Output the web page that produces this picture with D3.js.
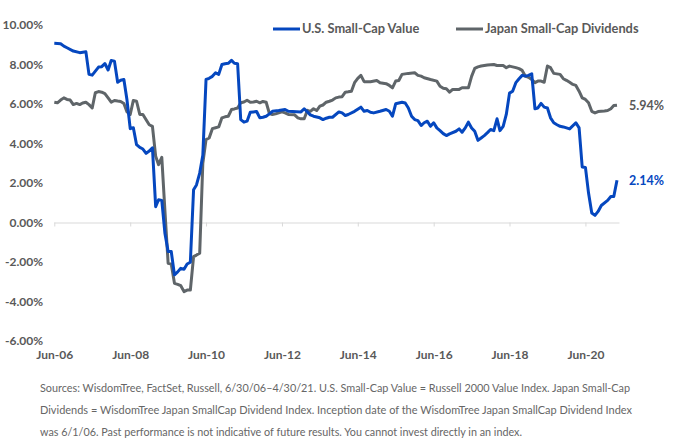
<!DOCTYPE html>
<html>
<head>
<meta charset="utf-8">
<script src="https://cdn.jsdelivr.net/npm/d3@7"></script>
<style>
body { margin: 0; background: #fff; }
text { font-family: Lato, "Open Sans", sans-serif; }
</style>
</head>
<body>
<div id="chart"></div>
<script>
// series names, tick labels and the note under the chart
var seriesNames = ["U.S. Small-Cap Value", "Japan Small-Cap Dividends"];
var xTickLabels = ["Jun-06", "Jun-08", "Jun-10", "Jun-12", "Jun-14", "Jun-16", "Jun-18", "Jun-20"];
var yTicks = [-6, -4, -2, 0, 2, 4, 6, 8, 10];
var noteLines = [
    "Sources: WisdomTree, FactSet, Russell, 6/30/06\u20134/30/21. U.S. Small-Cap Value = Russell 2000 Value Index. Japan Small-Cap",
    "Dividends = WisdomTree Japan SmallCap Dividend Index. Inception date of the WisdomTree Japan SmallCap Dividend Index",
    "was 6/1/06. Past performance is not indicative of future results. You cannot invest directly in an index."
];

// dividend yield (%), month : value
var usValue = [
    ["2006-06", 9.07], ["2006-08", 9.05], ["2006-09", 8.93], ["2006-10", 8.85], ["2006-12", 8.68],
    ["2007-02", 8.6], ["2007-04", 8.65], ["2007-05", 7.5], ["2007-06", 7.46], ["2007-08", 7.87],
    ["2007-09", 7.89], ["2007-10", 8.05], ["2007-11", 7.72], ["2007-12", 8.2], ["2008-01", 8.17],
    ["2008-02", 7.1], ["2008-03", 7.2], ["2008-04", 7.24], ["2008-05", 6.2], ["2008-06", 4.75],
    ["2008-07", 4.8], ["2008-08", 3.94], ["2008-09", 3.8], ["2008-10", 3.72], ["2008-11", 3.5],
    ["2008-12", 3.62], ["2009-01", 3.78], ["2009-02", 0.8], ["2009-03", 1.15], ["2009-04", 1.12],
    ["2009-05", -0.54], ["2009-06", -1.47], ["2009-07", -1.47], ["2009-08", -2.65], ["2009-09", -2.5],
    ["2009-10", -2.32], ["2009-11", -2.37], ["2009-12", -2.1], ["2010-01", -2.01], ["2010-02", 1.66],
    ["2010-03", 1.9], ["2010-04", 2.5], ["2010-05", 3.4], ["2010-06", 7.24], ["2010-07", 7.3],
    ["2010-08", 7.4], ["2010-09", 7.58], ["2010-10", 7.5], ["2010-11", 8.0], ["2010-12", 8.04],
    ["2011-01", 8.06], ["2011-02", 8.21], ["2011-03", 8.06], ["2011-04", 8.04], ["2011-05", 5.21],
    ["2011-06", 5.08], ["2011-07", 5.13], ["2011-08", 5.58], ["2011-09", 5.6], ["2011-10", 5.62],
    ["2011-11", 5.3], ["2011-12", 5.33], ["2012-01", 5.38], ["2012-02", 5.5], ["2012-03", 5.63],
    ["2012-05", 5.67], ["2012-07", 5.72], ["2012-08", 5.63], ["2012-12", 5.6], ["2013-01", 5.76],
    ["2013-02", 5.6], ["2013-03", 5.45], ["2013-04", 5.38], ["2013-06", 5.3], ["2013-07", 5.21],
    ["2013-08", 5.28], ["2013-09", 5.33], ["2013-10", 5.33], ["2013-12", 5.6], ["2014-01", 5.55],
    ["2014-02", 5.42], ["2014-03", 5.47], ["2014-05", 5.63], ["2014-07", 5.84], ["2014-08", 5.63],
    ["2014-09", 5.67], ["2014-10", 5.58], ["2014-11", 5.55], ["2015-01", 5.63], ["2015-03", 5.72],
    ["2015-04", 5.63], ["2015-05", 5.38], ["2015-06", 6.01], ["2015-08", 6.09], ["2015-09", 6.05],
    ["2015-10", 5.8], ["2015-11", 5.38], ["2015-12", 5.21], ["2016-01", 5.16], ["2016-02", 4.91],
    ["2016-03", 5.05], ["2016-04", 5.13], ["2016-05", 4.87], ["2016-06", 5.05], ["2016-07", 4.79],
    ["2016-08", 4.65], ["2016-09", 4.5], ["2016-10", 4.4], ["2016-11", 4.49], ["2017-01", 4.62],
    ["2017-02", 4.74], ["2017-03", 4.57], ["2017-04", 4.79], ["2017-05", 5.08], ["2017-06", 4.79],
    ["2017-07", 4.62], ["2017-08", 4.16], ["2017-09", 4.28], ["2017-10", 4.4], ["2017-11", 4.55],
    ["2017-12", 4.71], ["2018-01", 4.65], ["2018-02", 5.25], ["2018-03", 4.65], ["2018-04", 4.87],
    ["2018-05", 5.47], ["2018-06", 6.55], ["2018-07", 6.65], ["2018-08", 7.08], ["2018-09", 7.28],
    ["2018-10", 7.45], ["2018-11", 7.41], ["2018-12", 7.45], ["2019-01", 7.53], ["2019-02", 5.76],
    ["2019-03", 5.8], ["2019-04", 6.03], ["2019-05", 5.84], ["2019-06", 5.8], ["2019-07", 5.3],
    ["2019-08", 5.05], ["2019-09", 4.95], ["2019-10", 4.87], ["2019-11", 4.84], ["2020-01", 4.74],
    ["2020-03", 5.05], ["2020-04", 4.79], ["2020-05", 2.81], ["2020-06", 2.79], ["2020-07", 1.49],
    ["2020-08", 0.48], ["2020-09", 0.36], ["2020-10", 0.56], ["2020-11", 0.86], ["2021-01", 1.12],
    ["2021-02", 1.32], ["2021-03", 1.32], ["2021-04", 2.14]
];

var japanValue = [
    ["2006-06", 6.09], ["2006-07", 6.06], ["2006-08", 6.2], ["2006-09", 6.31], ["2006-10", 6.23],
    ["2006-11", 6.2], ["2006-12", 5.97], ["2007-01", 6.03], ["2007-02", 5.97], ["2007-03", 6.05],
    ["2007-04", 6.09], ["2007-05", 5.97], ["2007-06", 5.8], ["2007-07", 6.57], ["2007-08", 6.63],
    ["2007-09", 6.6], ["2007-10", 6.53], ["2007-11", 6.31], ["2007-12", 6.09], ["2008-01", 6.18],
    ["2008-02", 6.15], ["2008-03", 6.13], ["2008-04", 6.03], ["2008-05", 5.6], ["2008-06", 5.47],
    ["2008-07", 6.18], ["2008-08", 6.14], ["2008-09", 5.47], ["2008-10", 5.47], ["2008-11", 5.2],
    ["2008-12", 4.95], ["2009-01", 4.87], ["2009-02", 3.35], ["2009-03", 2.93], ["2009-04", 3.3],
    ["2009-05", 0.6], ["2009-06", -2.06], ["2009-07", -2.1], ["2009-08", -3.08], ["2009-09", -3.13],
    ["2009-10", -3.2], ["2009-11", -3.5], ["2009-12", -3.42], ["2010-01", -3.42], ["2010-02", -1.73],
    ["2010-03", -1.65], ["2010-04", -1.55], ["2010-05", 3.0], ["2010-06", 4.2], ["2010-07", 4.28],
    ["2010-08", 4.75], ["2010-09", 4.8], ["2010-10", 4.84], ["2010-11", 5.3], ["2010-12", 5.35],
    ["2011-01", 5.38], ["2011-02", 5.72], ["2011-03", 5.75], ["2011-04", 5.8], ["2011-05", 6.06],
    ["2011-06", 6.1], ["2011-07", 6.19], ["2011-08", 6.09], ["2011-09", 6.1], ["2011-10", 6.14],
    ["2011-11", 6.06], ["2011-12", 6.13], ["2012-01", 6.09], ["2012-02", 5.52], ["2012-03", 5.47],
    ["2012-04", 5.5], ["2012-05", 5.55], ["2012-06", 5.6], ["2012-07", 5.55], ["2012-08", 5.47],
    ["2012-10", 5.45], ["2012-11", 5.3], ["2012-12", 5.25], ["2013-01", 5.25], ["2013-02", 5.68],
    ["2013-03", 5.63], ["2013-04", 5.76], ["2013-05", 5.67], ["2013-06", 5.89], ["2013-07", 5.95],
    ["2013-08", 6.09], ["2013-09", 6.14], ["2013-10", 6.2], ["2013-11", 6.31], ["2013-12", 6.35],
    ["2014-01", 6.37], ["2014-02", 6.6], ["2014-03", 6.62], ["2014-04", 6.65], ["2014-05", 7.08],
    ["2014-06", 7.3], ["2014-07", 7.45], ["2014-08", 7.13], ["2014-10", 7.13], ["2014-12", 7.19],
    ["2015-01", 7.08], ["2015-03", 7.03], ["2015-04", 6.94], ["2015-05", 6.82], ["2015-06", 7.16],
    ["2015-07", 7.19], ["2015-08", 7.5], ["2015-10", 7.55], ["2015-12", 7.58], ["2016-01", 7.45],
    ["2016-02", 7.41], ["2016-03", 7.33], ["2016-05", 7.24], ["2016-07", 7.16], ["2016-08", 6.9],
    ["2016-09", 6.8], ["2016-10", 6.77], ["2016-11", 6.6], ["2016-12", 6.74], ["2017-02", 6.74],
    ["2017-03", 6.82], ["2017-05", 6.82], ["2017-06", 7.4], ["2017-07", 7.8], ["2017-08", 7.88],
    ["2017-09", 7.92], ["2017-11", 7.97], ["2018-01", 8.0], ["2018-02", 7.95], ["2018-04", 7.95],
    ["2018-05", 7.84], ["2018-06", 7.92], ["2018-07", 7.88], ["2018-08", 7.84], ["2018-09", 7.79],
    ["2018-10", 7.7], ["2018-11", 7.41], ["2018-12", 7.35], ["2019-01", 7.24], ["2019-02", 7.08],
    ["2019-03", 7.16], ["2019-04", 7.16], ["2019-05", 7.1], ["2019-06", 7.92], ["2019-07", 7.84],
    ["2019-08", 7.55], ["2019-10", 7.5], ["2019-11", 7.28], ["2019-12", 7.2], ["2020-01", 7.1],
    ["2020-02", 6.99], ["2020-03", 6.94], ["2020-04", 6.65], ["2020-05", 6.31], ["2020-06", 6.23],
    ["2020-07", 6.06], ["2020-08", 5.63], ["2020-09", 5.55], ["2020-10", 5.62], ["2020-12", 5.65],
    ["2021-01", 5.67], ["2021-02", 5.76], ["2021-03", 5.92], ["2021-04", 5.94]
];

var w = 685;
var h = 445;
var blue = "#0547bf";
var gray = "#5f6569";
var textGray = "#595959";

var parseMonth = d3.timeParse("%Y-%m");
var parseTick = d3.timeParse("%b-%y");

var series = [
    { name: seriesNames[0], color: blue, values: usValue.map(function(d) { return { date: parseMonth(d[0]), value: d[1] }; }) },
    { name: seriesNames[1], color: gray, values: japanValue.map(function(d) { return { date: parseMonth(d[0]), value: d[1] }; }) }
];

var svg = d3.select("#chart")
    .append("svg")
    .attr("width", w)
    .attr("height", h);

var xScale = d3.scaleTime()
    .domain([parseMonth("2006-06"), parseMonth("2021-04")])
    .range([54.3, 617]);

var yScale = d3.scaleLinear()
    .domain([-6, 10])
    .range([341, 25]);

var tickDates = xTickLabels.map(function(t) { return parseTick(t); });

// y labels, no axis line
var yAxis = svg.append("g")
    .attr("transform", "translate(43,0)")
    .call(d3.axisLeft(yScale)
        .tickValues(yTicks)
        .tickSize(0)
        .tickPadding(0)
        .tickFormat(function(d) { return d.toFixed(2) + "%"; }));
yAxis.select(".domain").remove();
yAxis.selectAll("text")
    .style("font-size", "12px")
    .style("font-weight", 700)
    .attr("fill", textGray);

// zero line with small tick marks
var zeroAxis = svg.append("g")
    .attr("transform", "translate(0," + yScale(0) + ")")
    .call(d3.axisBottom(xScale)
        .tickValues(tickDates)
        .tickSizeInner(4)
        .tickSizeOuter(0)
        .tickFormat(""));
zeroAxis.select(".domain").attr("stroke", "#d9d9d9").attr("d", "M54.3,0.5H619.5");
zeroAxis.selectAll(".tick line").attr("stroke", "#d9d9d9");

// x labels sit low, under the plot
var xAxis = svg.append("g")
    .attr("transform", "translate(0,347)")
    .call(d3.axisBottom(xScale)
        .tickValues(tickDates)
        .tickSize(0)
        .tickPadding(3)
        .tickFormat(d3.timeFormat("%b-%y")));
xAxis.select(".domain").remove();
xAxis.selectAll("text")
    .style("font-size", "12px")
    .style("font-weight", 700)
    .attr("fill", textGray);

var line = d3.line()
    .x(function(d) { return xScale(d.date); })
    .y(function(d) { return yScale(d.value); });

// gray first so the blue sits on top
[series[1], series[0]].forEach(function(s) {
    svg.append("path")
        .datum(s.values)
        .attr("d", line)
        .attr("fill", "none")
        .attr("stroke", s.color)
        .attr("stroke-width", 3)
        .attr("stroke-linejoin", "round");
});

// end value labels
series.forEach(function(s) {
    var last = s.values[s.values.length - 1];
    svg.append("text")
        .attr("x", 629)
        .attr("y", yScale(last.value))
        .attr("dy", "0.35em")
        .style("font-size", "12.5px")
        .style("font-weight", 700)
        .attr("fill", s === series[0] ? blue : textGray)
        .text(last.value.toFixed(2) + "%");
});

// legend
var legendX = [273, 456];
series.forEach(function(s, i) {
    var g = svg.append("g").attr("transform", "translate(" + legendX[i] + ",29)");
    g.append("line")
        .attr("x1", 0).attr("x2", 27)
        .attr("stroke", s.color)
        .attr("stroke-width", 3);
    g.append("text")
        .attr("x", 29)
        .attr("dy", "0.35em")
        .style("font-size", "12.8px")
        .style("font-weight", 700)
        .attr("fill", textGray)
        .text(s.name);
});

// source note
var noteWidths = [590, 592, 482];
noteLines.forEach(function(t, i) {
    var txt = svg.append("text")
        .attr("x", 40)
        .attr("y", 388 + i * 22)
        .attr("dy", "0.35em")
        .style("font-size", "11px")
        .style("font-weight", 400)
        .attr("fill", "#666666")
        .text(t);
    if (txt.node().getComputedTextLength() > noteWidths[i]) {
        txt.attr("textLength", noteWidths[i]).attr("lengthAdjust", "spacingAndGlyphs");
    }
});
</script>
</body>
</html>
